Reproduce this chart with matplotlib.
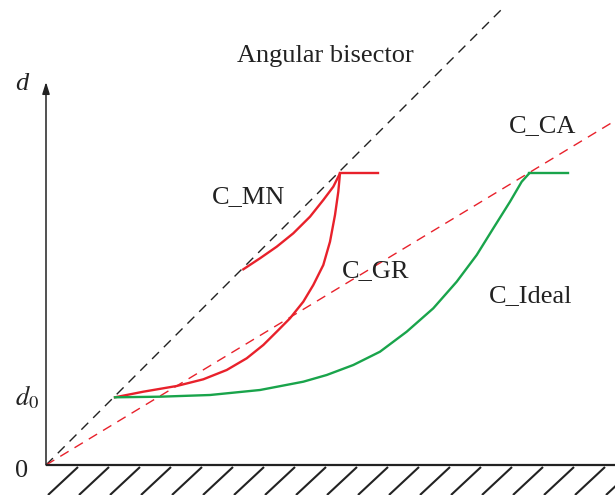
import numpy as np
import matplotlib.pyplot as plt

plt.rcParams["font.family"] = ["Liberation Serif", "DejaVu Serif"]
plt.rcParams["mathtext.fontset"] = "stix"

RED = "#e8212b"
GREEN = "#19a44b"
DARK = "#222222"

# curve points (x, d)
mn_x = [197.3, 214, 230.7, 247.3, 264, 277.3, 287.3, 294]
mn_y = [195.7, 206.7, 218.3, 231.7, 248.3, 265, 278.3, 291.7]

gr_x = [69, 97.3, 130.7, 157.3, 180.7, 200.7, 217.3, 230.7, 244, 257.3,
        267.3, 277.3, 284, 289, 292.3, 294]
gr_y = [67.7, 73.3, 79, 85.7, 95, 106.7, 120, 133.3, 146.7, 163.3,
        180, 200, 223.3, 250, 273.3, 291.7]

ideal_x = [69, 114, 164, 214, 257.3, 280.7, 307.3, 334, 360.7, 387.3,
           410.7, 430.7, 447.3, 464, 475.7, 483.3]
ideal_y = [67.7, 68.3, 70, 75, 83.3, 90, 100, 113.3, 133.3, 156.7,
           183.3, 210, 236.7, 263.3, 283.3, 291.7]

# flat tails after the switching point
mn_top = [294, 332]
ideal_top = [483.3, 522]
top_d = 291.7

bisector_end = 455
ca_slope = 0.605
x_end = 569

hatch_starts = np.arange(2, 580, 31)

fig = plt.figure(figsize=(6.15, 4.95), dpi=100)
ax = fig.add_axes([0, 0, 1, 1])
ax.set_xlim(-46, 569)
ax.set_ylim(-30, 465)
ax.axis("off")

# reference lines
ax.plot([0, bisector_end], [0, bisector_end], color=DARK, lw=1.0,
        dashes=(7, 5))
ax.plot([0, x_end], [0, ca_slope * x_end], color=RED, lw=1.0,
        dashes=(7, 5))

# curves
ax.plot(mn_x, mn_y, color=RED, lw=1.7, solid_joinstyle="round")
ax.plot(mn_top, [top_d, top_d], color=RED, lw=1.7)
ax.plot(gr_x, gr_y, color=RED, lw=1.7, solid_joinstyle="round")
ax.plot(ideal_x, ideal_y, color=GREEN, lw=1.7, solid_joinstyle="round")
ax.plot(ideal_top, [top_d, top_d], color=GREEN, lw=1.7)

# axes and ground
ax.plot([0, x_end], [0, 0], color=DARK, lw=1.6, solid_capstyle="butt")
ax.annotate("", xy=(0, 383), xytext=(0, 0),
            arrowprops=dict(arrowstyle="-|>,head_length=0.7,head_width=0.22",
                            color=DARK, lw=1.1, shrinkA=0, shrinkB=0))
for x0 in hatch_starts:
    ax.plot([x0, x0 + 30], [-30, -2], color=DARK, lw=1.5,
            solid_capstyle="butt")

# labels
fs = 19
ax.text(191, 403, "Angular bisector", fontsize=fs, ha="left",
        va="baseline", color=DARK)
ax.text(166, 262, "C_MN", fontsize=fs, ha="left", va="baseline",
        color=DARK)
ax.text(296, 188, "C_GR", fontsize=fs, ha="left", va="baseline",
        color=DARK)
ax.text(463, 333, "C_CA", fontsize=fs, ha="left", va="baseline",
        color=DARK)
ax.text(443, 163, "C_Ideal", fontsize=fs, ha="left", va="baseline",
        color=DARK)
ax.text(-31, 375, "d", fontsize=19, style="italic", ha="left",
        va="baseline", color=DARK)
ax.text(-31, 60, r"$d_0$", fontsize=19, ha="left", va="baseline",
        color=DARK)
ax.text(-31, -12, "0", fontsize=19, ha="left", va="baseline",
        color=DARK)

fig.savefig("out.png", dpi=100)
